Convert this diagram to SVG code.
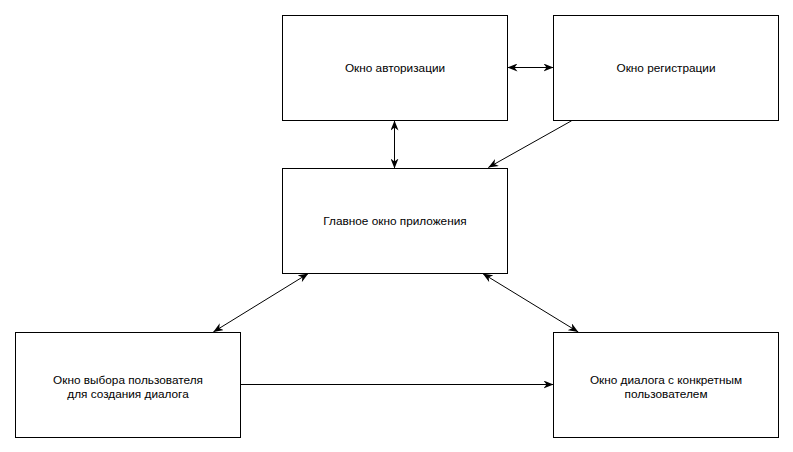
<svg xmlns="http://www.w3.org/2000/svg" width="793" height="452" viewBox="0 0 793 452">
<style>
.box{fill:#ffffff;stroke:#000000;stroke-width:1}
.lbl{font-family:"Liberation Sans",Arial,sans-serif;font-size:11.8px;fill:#000000;text-anchor:middle}
.c{fill:none;stroke:#000000;stroke-width:1}
.one{marker-end:url(#arr)}
.two{marker-start:url(#arr);marker-end:url(#arr)}
</style>
<defs>
<marker id="arr" viewBox="0 0 10 8" refX="10" refY="4" markerWidth="10" markerHeight="8" markerUnits="userSpaceOnUse" orient="auto-start-reverse">
<path d="M10,4 L0,0 L3,4 L0,8 Z" fill="#000000"/>
</marker>
</defs>
<rect width="793" height="452" fill="#ffffff"/>
<g id="connectors">
<line class="c two" x1="507.5" y1="67.5" x2="553.5" y2="67.5"/>
<line class="c two" x1="394.5" y1="120.5" x2="394.5" y2="168.5"/>
<line class="c one" x1="571.7" y1="120.7" x2="488.3" y2="167.5"/>
<line class="c two" x1="308.3" y1="273.5" x2="213.3" y2="332"/>
<line class="c two" x1="482.7" y1="273.5" x2="578.3" y2="332"/>
<line class="c one" x1="240.5" y1="384.5" x2="553.5" y2="384.5"/>
</g>
<g id="auth">
<rect class="box" x="282.5" y="15.5" width="225" height="105"/>
<text class="lbl" x="395" y="71.5">Окно авторизации</text>
</g>
<g id="reg">
<rect class="box" x="553.5" y="15.5" width="225" height="105"/>
<text class="lbl" x="666" y="71.5">Окно регистрации</text>
</g>
<g id="main">
<rect class="box" x="282.5" y="168.5" width="225" height="105"/>
<text class="lbl" x="395" y="224.5">Главное окно приложения</text>
</g>
<g id="select">
<rect class="box" x="15.5" y="332.5" width="225" height="105"/>
<text class="lbl" x="128" y="383.5">Окно выбора пользователя</text>
<text class="lbl" x="128" y="398">для создания диалога</text>
</g>
<g id="dialog">
<rect class="box" x="553.5" y="332.5" width="225" height="105"/>
<text class="lbl" x="666" y="383.5">Окно диалога с конкретным</text>
<text class="lbl" x="666" y="398">пользователем</text>
</g>
</svg>
